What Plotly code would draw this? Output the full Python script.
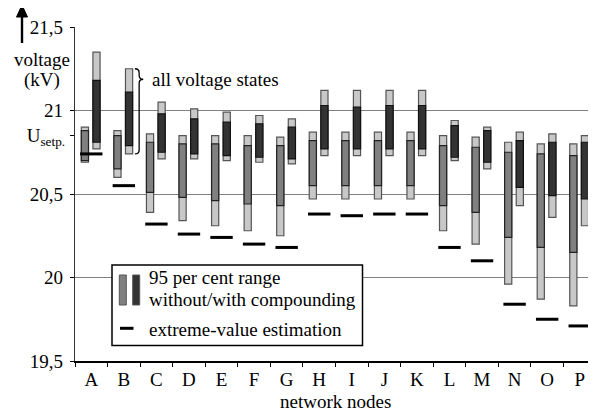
import plotly.graph_objects as go

# ---------------- data (kV) ----------------
categories = list("ABCDEFGHIJKLMNOP")

# without compounding: all-states max / 95% upper / 95% lower / all-states min
wo_max = [20.90, 20.88, 20.86, 20.85, 20.85, 20.85, 20.84, 20.87, 20.87, 20.87, 20.87, 20.85, 20.84, 20.81, 20.80, 20.80]
wo_hi  = [20.88, 20.85, 20.81, 20.80, 20.80, 20.79, 20.79, 20.82, 20.82, 20.82, 20.82, 20.79, 20.78, 20.75, 20.74, 20.73]
wo_lo  = [20.70, 20.65, 20.51, 20.48, 20.46, 20.44, 20.43, 20.55, 20.55, 20.55, 20.55, 20.43, 20.39, 20.24, 20.18, 20.15]
wo_min = [20.69, 20.60, 20.39, 20.34, 20.31, 20.28, 20.25, 20.47, 20.47, 20.47, 20.47, 20.28, 20.20, 19.96, 19.87, 19.83]

# with compounding
wi_max = [21.35, 21.25, 21.05, 21.01, 20.99, 20.97, 20.95, 21.12, 21.12, 21.12, 21.12, 20.94, 20.90, 20.87, 20.86, 20.85]
wi_hi  = [21.18, 21.11, 20.98, 20.95, 20.93, 20.92, 20.90, 21.03, 21.02, 21.03, 21.03, 20.91, 20.88, 20.82, 20.81, 20.81]
wi_lo  = [20.81, 20.79, 20.75, 20.74, 20.73, 20.72, 20.71, 20.77, 20.77, 20.77, 20.77, 20.72, 20.69, 20.54, 20.49, 20.47]
wi_min = [20.77, 20.74, 20.71, 20.71, 20.70, 20.69, 20.68, 20.73, 20.73, 20.73, 20.73, 20.70, 20.65, 20.43, 20.36, 20.31]

# extreme-value estimation
extreme = [20.74, 20.55, 20.32, 20.26, 20.24, 20.20, 20.18, 20.38, 20.37, 20.38, 20.38, 20.18, 20.10, 19.84, 19.75, 19.71]

y_ticks = [19.5, 20.0, 20.5, 21.0, 21.5]
y_ticktext = ["19,5", "20", "20,5", "21", "21,5"]
U_SETP = 20.85
Y_RANGE = [19.5, 21.5]

# ---------------- style ----------------
FONT = "'Liberation Serif', 'Times New Roman', Times, serif"
LIGHT = "#c8c8c8"
MID = "#808080"
DARK = "#333333"
OUTLINE = "#555555"
BODY = 8                      # default page margin around the plot div
W, H = 596 - BODY, 414 - BODY
ML, MR, MT, MB = 75 - BODY, 0, 27 - BODY, 53
PW, PH = W - ML - MR, H - MT - MB
X0, Y0 = ML + BODY, MT + BODY  # plot-area origin in window pixels

BAR_W = 0.22
OFF_L = -0.196 - BAR_W / 2
OFF_R = 0.160 - BAR_W / 2


def px_x(px):
    return (px - X0) / PW


def px_y(py):
    return (Y0 + PH - py) / PH


def span(hi, lo):
    return [h - l for h, l in zip(hi, lo)]


fig = go.Figure()

common = dict(x=categories, width=BAR_W, showlegend=False, hoverinfo="skip")
fig.add_trace(go.Bar(y=span(wo_max, wo_min), base=wo_min, offset=OFF_L,
                     marker=dict(color=LIGHT, line=dict(color=OUTLINE, width=1.2)), **common))
fig.add_trace(go.Bar(y=span(wo_hi, wo_lo), base=wo_lo, offset=OFF_L,
                     marker=dict(color=MID, line=dict(color="#222222", width=1.2)), **common))
fig.add_trace(go.Bar(y=span(wi_max, wi_min), base=wi_min, offset=OFF_R,
                     marker=dict(color=LIGHT, line=dict(color=OUTLINE, width=1.2)), **common))
fig.add_trace(go.Bar(y=span(wi_hi, wi_lo), base=wi_lo, offset=OFF_R,
                     marker=dict(color=DARK, line=dict(color="#111111", width=1.2)), **common))

fig.add_trace(go.Scatter(x=categories, y=extreme, yaxis="y2", mode="markers",
                         marker=dict(symbol="line-ew", size=16, color="black",
                                     line=dict(color="black", width=3)),
                         showlegend=False, hoverinfo="skip"))

# ---------------- brace "all voltage states" (around B, with compounding) ----------------
bi = categories.index("B")
def cat_paper(u):
    return (u + 0.5) / len(categories)
def val_paper(v):
    return (v - Y_RANGE[0]) / (Y_RANGE[1] - Y_RANGE[0])

x0 = cat_paper(bi + 0.34)
xv = cat_paper(bi + 0.47)
xt = cat_paper(bi + 0.595)
yt = val_paper(wi_max[bi])
yb = val_paper(wi_min[bi])
ytip = val_paper(21.187)
r = 4 / PH
brace = (f"M {x0},{yt} Q {xv},{yt} {xv},{yt - r} L {xv},{ytip + r} "
         f"Q {xv},{ytip} {xt},{ytip} Q {xv},{ytip} {xv},{ytip - r} "
         f"L {xv},{yb + r} Q {xv},{yb} {x0},{yb}")

# arrow next to the y-axis title
ax_x = px_x(22)
head = (f"M {px_x(16.5)},{px_y(17)} L {px_x(27.5)},{px_y(17)} L {ax_x},{px_y(5)} Z")

shapes = [
    dict(type="path", path=brace, xref="paper", yref="paper",
         line=dict(color="black", width=1.3)),
    dict(type="line", xref="paper", yref="paper", x0=ax_x, x1=ax_x,
         y0=px_y(43), y1=px_y(15), line=dict(color="black", width=2.4)),
    dict(type="path", path=head, xref="paper", yref="paper",
         fillcolor="black", line=dict(color="black", width=1)),
    # legend box
    dict(type="rect", xref="paper", yref="paper", layer="above",
         x0=px_x(112), x1=px_x(362.5), y0=px_y(345.5), y1=px_y(265),
         fillcolor="white", line=dict(color="black", width=1.5)),
    dict(type="rect", xref="paper", yref="paper", layer="above",
         x0=px_x(119.3), x1=px_x(126.3), y0=px_y(305), y1=px_y(275),
         fillcolor=MID, line=dict(color=OUTLINE, width=1)),
    dict(type="rect", xref="paper", yref="paper", layer="above",
         x0=px_x(132.7), x1=px_x(139.7), y0=px_y(305), y1=px_y(275),
         fillcolor=DARK, line=dict(color=OUTLINE, width=1)),
    dict(type="line", xref="paper", yref="paper", layer="above",
         x0=px_x(120), x1=px_x(133.5), y0=px_y(328.3), y1=px_y(328.3),
         line=dict(color="black", width=3)),
]

txt = dict(font=dict(family=FONT, size=19, color="black"), showarrow=False,
           xref="paper", yref="paper")
annotations = [
    dict(text="95 per cent range", x=px_x(147), y=px_y(277.5), xanchor="left", yanchor="middle", **txt),
    dict(text="without/with compounding", x=px_x(147), y=px_y(299.5), xanchor="left", yanchor="middle", **txt),
    dict(text="extreme-value estimation", x=px_x(147), y=px_y(329), xanchor="left", yanchor="middle", **txt),
    dict(text="all voltage states", x=px_x(150), y=px_y(79), xanchor="left", yanchor="middle", **txt),
    dict(text="voltage", x=px_x(42), y=px_y(60), xanchor="center", yanchor="middle", **txt),
    dict(text="(kV)", x=px_x(42), y=px_y(80), xanchor="center", yanchor="middle", **txt),
    dict(text="network nodes", x=0.5, y=px_y(401), xanchor="center", yanchor="middle", **txt),
]

fig.update_layout(
    width=W, height=H,
    margin=dict(l=ML, r=MR, t=MT, b=MB, pad=0),
    paper_bgcolor="white", plot_bgcolor="white",
    font=dict(family=FONT, size=19, color="black"),
    barmode="overlay",
    showlegend=False,
    shapes=shapes,
    annotations=annotations,
    xaxis=dict(type="category", range=[-0.5, len(categories) - 0.5],
               tickson="boundaries", ticks="outside", ticklen=4, tickcolor="black",
               showline=True, linecolor="black", linewidth=1.5,
               showgrid=False, zeroline=False, fixedrange=True),
    yaxis=dict(range=Y_RANGE, tickvals=y_ticks, ticktext=y_ticktext,
               ticks="outside", ticklen=4, tickcolor="black", ticklabelstandoff=3,
               showline=True, linecolor="#333333", linewidth=1.3,
               showgrid=True, gridcolor="#808080", gridwidth=1.4,
               zeroline=False, fixedrange=True),
    yaxis2=dict(range=Y_RANGE, overlaying="y", anchor="x", side="left",
                tickvals=[U_SETP], ticktext=["U<sub>setp.</sub>"],
                ticks="outside", ticklen=4, tickcolor="black", ticklabelstandoff=1,
                showline=False, showgrid=False, zeroline=False, fixedrange=True),
)

fig.write_html("out.html")
